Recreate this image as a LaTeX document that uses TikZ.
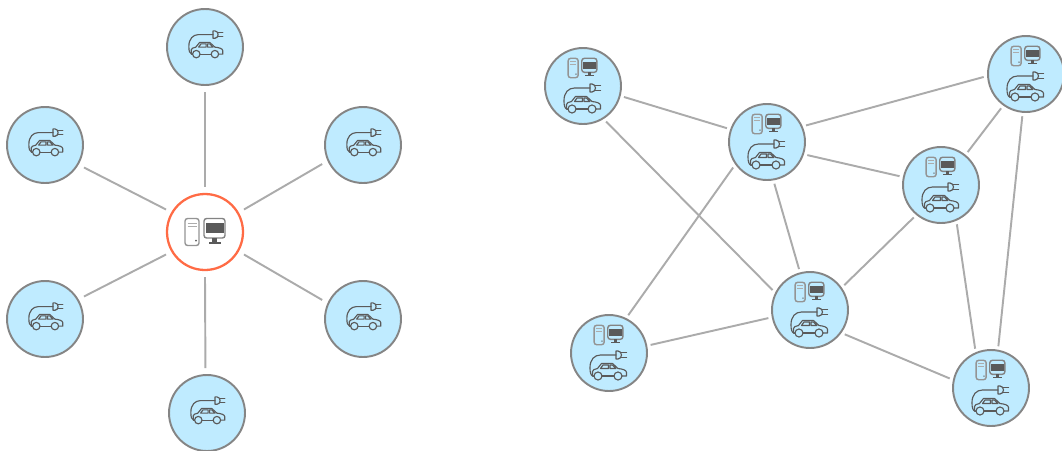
\documentclass[tikz,border=0pt]{standalone}
\usepackage{xcolor}
\definecolor{evblue}{HTML}{BFEBFF}
\definecolor{evrim}{HTML}{858585}
\definecolor{hubrim}{HTML}{FF6B45}
\definecolor{linkgray}{HTML}{ABABAB}
\definecolor{icongray}{HTML}{5A5A5A}
\tikzset{
  evnode/.style={circle,draw=evrim,line width=1.1pt,fill=evblue,minimum size=1.52cm,inner sep=0pt,outer sep=4pt},
  peernode/.style={evnode,outer sep=2.5pt},
  hubnode/.style={circle,draw=hubrim,line width=1.3pt,fill=white,minimum size=1.52cm,inner sep=0pt,outer sep=4pt},
  link/.style={draw=linkgray,line width=1.1pt},
  iconline/.style={draw=icongray,line width=0.65pt,line join=round,line cap=round},
  evcar/.pic={
    \draw[iconline] (-15.5,-5.5) -- (-17,-5.5) -- (-17,-1) .. controls (-17,0.5) and (-15,1.5) .. (-12,2)
      -- (-8,7) -- (3,7) -- (8.5,2) .. controls (13,1.5) and (17,0.5) .. (17,-2) -- (17,-5.5) -- (12.5,-5.5);
    \draw[iconline] (-7.5,-5.5) -- (4.5,-5.5);
    \draw[iconline] (-11.5,-5.5) circle (4);
    \draw[iconline] (8.5,-5.5) circle (4);
    \draw[iconline] (-9,2) -- (-6.5,5.5) -- (-1,5.5) -- (-1,2) -- cycle;
    \draw[iconline] (0.5,2) -- (0.5,5.5) -- (3,5.5) -- (6.5,2) -- cycle;
    \draw[iconline] (-16,-6) .. controls (-19,-5) and (-19.5,-2) .. (-19.5,3) .. controls (-19.5,11) and (-15,15.5) .. (-9,15.5) -- (6.5,15.5);
    \draw[iconline] (6.5,11.5) -- (6.5,19.5) -- (8.5,19.5) .. controls (10.5,19.5) and (12,17.5) .. (12,15.5) .. controls (12,13.5) and (10.5,11.5) .. (8.5,11.5) -- cycle;
    \draw[iconline] (12,18) -- (17,18);
    \draw[iconline] (12,13) -- (17,13);
  },
  evpc/.pic={
    \draw[draw=icongray!65,line width=0.8pt,rounded corners=1.5pt] (-20,-13.5) rectangle (-6,13.5);
    \draw[draw=icongray!50,line width=0.5pt] (-17.5,9) -- (-8.5,9);
    \draw[draw=icongray!50,line width=0.5pt] (-17.5,5.5) -- (-8.5,5.5);
    \fill[icongray] (-9,-8.5) circle (1);
    \draw[draw=icongray!75,line width=0.8pt,rounded corners=1.5pt] (-1,-6) rectangle (20,13.5);
    \fill[icongray] (0.5,-1) rectangle (18.5,9);
    \fill[icongray] (7,-6) rectangle (12,-10);
    \fill[icongray] (3.5,-9.5) rectangle (15.5,-11.5);
  },
  evplain/.pic={
    \pic[scale=0.93] at (2,-2) {evcar};
  },
  evfull/.pic={
    \pic at (0.5,-17.5) {evcar};
    \pic[scale=0.72] at (-0.5,18) {evpc};
  }
}

\begin{document}
\begin{tikzpicture}[x=0.02cm,y=0.02cm]
\useasboundingbox (0,0) rectangle (1062,-450);
% star
\node[hubnode] (hub) at (205,-232) {};
\node[evnode] (top) at (205,-47) {};
\node[evnode] (upleft) at (45,-145) {};
\node[evnode] (upright) at (363,-145) {};
\node[evnode] (lowleft) at (45,-319) {};
\node[evnode] (lowright) at (363,-319) {};
\node[evnode] (bottom) at (207,-413) {};
\draw[link] (hub.90) -- (top.-90);
\draw[link] (hub.150) -- (upleft.-30);
\draw[link] (hub.30) -- (upright.-155);
\draw[link] (hub.-150) -- (lowleft.30);
\draw[link] (hub.-30) -- (lowright.155);
\draw[link] (hub.-90) -- (bottom.92);
\pic at (hub) {evpc};
\pic at (top) {evplain};
\pic at (upleft) {evplain};
\pic at (upright) {evplain};
\pic at (lowleft) {evplain};
\pic at (lowright) {evplain};
\pic at (bottom) {evplain};
% mesh
\node[peernode] (peerA) at (583,-86) {};
\node[peernode] (peerB) at (767,-142) {};
\node[peernode] (peerC) at (1026,-74) {};
\node[peernode] (peerD) at (941,-185) {};
\node[peernode] (peerE) at (810,-310) {};
\node[peernode] (peerF) at (609,-353) {};
\node[peernode] (peerG) at (991,-388) {};
\draw[link] (peerA.-15) -- (peerB.161);
\draw[link] (peerA.-57) -- (peerE.152);
\draw[link] (peerB.23) -- (peerC.184);
\draw[link] (peerB.-18) -- (peerD.168);
\draw[link] (peerB.-80) -- (peerE.105);
\draw[link] (peerB.-143) -- (peerF.63);
\draw[link] (peerC.-126) -- (peerD.51);
\draw[link] (peerC.-95) -- (peerG.80);
\draw[link] (peerD.-130) -- (peerE.36);
\draw[link] (peerD.-68) -- (peerG.112);
\draw[link] (peerE.191) -- (peerF.11);
\draw[link] (peerE.-35) -- (peerG.167);
\pic at (peerA) {evfull};
\pic at (peerB) {evfull};
\pic at (peerC) {evfull};
\pic at (peerD) {evfull};
\pic at (peerE) {evfull};
\pic at (peerF) {evfull};
\pic at (peerG) {evfull};
\end{tikzpicture}
\end{document}
